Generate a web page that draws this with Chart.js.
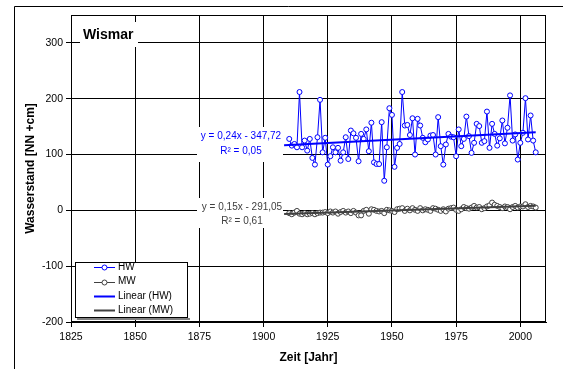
<!DOCTYPE html>
<html><head><meta charset="utf-8">
<script src="https://cdn.jsdelivr.net/npm/chart.js@4.4.1/dist/chart.umd.min.js"></script>
<style>html,body{margin:0;padding:0;background:#fff}#wrap{position:relative;width:563px;height:369px}</style>
</head><body><div id="wrap"><canvas id="c" width="563" height="369"></canvas></div>
<script>
const years = [1910,1911,1912,1913,1914,1915,1916,1917,1918,1919,1920,1921,1922,1923,1924,1925,1926,1927,1928,1929,
1930,1931,1932,1933,1934,1935,1936,1937,1938,1939,1940,1941,1942,1943,1944,1945,1946,1947,1948,1949,
1950,1951,1952,1953,1954,1955,1956,1957,1958,1959,1960,1961,1962,1963,1964,1965,1966,1967,1968,1969,
1970,1971,1972,1973,1974,1975,1976,1977,1978,1979,1980,1981,1982,1983,1984,1985,1986,1987,1988,1989,
1990,1991,1992,1993,1994,1995,1996,1997,1998,1999,2000,2001,2002,2003,2004,2005,2006];
const hwValues = [128,116,119,113,212,113,125,107,128,94,82,131,198,104,130,82,97,113,104,112,
89,104,131,92,143,138,130,88,137,128,145,106,157,86,83,83,158,53,113,183,
171,78,112,119,212,152,153,135,165,100,164,152,130,122,127,134,135,100,167,115,
82,118,137,132,131,97,145,115,128,168,133,103,121,155,151,121,124,177,112,155,
137,116,129,161,120,148,206,125,136,91,121,139,201,127,170,125,104];
const mwValues = [-5,-7,-4,-1,-6,-7,-5,-7,-6,-5,-7,-5,-4,-4,-3,-5,-2,-4,-2,-6,
-3,-1,-4,-2,-5,-1,-4,-9,-9,-1,1,-6,2,1,-1,-2,-1,-5,1,0,
-1,-3,2,3,4,-1,3,0,4,1,-1,4,0,2,1,-1,4,3,1,-1,
2,-2,3,4,5,1,-1,2,6,4,3,5,8,5,6,2,4,7,9,14,
10,8,6,4,7,6,2,6,8,5,7,7,11,6,8,7,5];
const xTickValues = [1825,1850,1875,1900,1925,1950,1975,2000];
const yTickValues = [-200,-100,0,100,200,300];
const seriesLabels = ['HW','MW','Linear (HW)','Linear (MW)'];
const chartTitle = 'Wismar';
const hwEquation = ['y = 0,24x - 347,72','R\u00B2 = 0,05'];
const mwEquation = ['y = 0,15x - 291,05','R\u00B2 = 0,61'];
const xAxisTitle = 'Zeit [Jahr]';
const yAxisTitle = 'Wasserstand [NN +cm]';
const trendRange = [1908, 2006];

const HW_COLOR = '#0000ff';
const MW_COLOR = '#404040';
const FONT = "'Liberation Sans', Arial, sans-serif";

function linFit(xs, ys) {
  const n = xs.length;
  let sx=0, sy=0, sxx=0, sxy=0;
  for (let i=0;i<n;i++){ sx+=xs[i]; sy+=ys[i]; sxx+=xs[i]*xs[i]; sxy+=xs[i]*ys[i]; }
  const m = (n*sxy - sx*sy)/(n*sxx - sx*sx);
  const b = (sy - m*sx)/n;
  return trendRange.map(x => ({x, y: m*x + b}));
}
const toPts = (ys) => years.map((x,i) => ({x, y: ys[i]}));

const decor = {
  id: 'decor',
  beforeDraw(chart) {
    const ctx = chart.ctx;
    ctx.save();
    ctx.fillStyle = '#fff';
    ctx.fillRect(0, 0, chart.width, chart.height);
    ctx.strokeStyle = '#000'; ctx.lineWidth = 1;
    ctx.beginPath();
    ctx.moveTo(14.5, chart.height); ctx.lineTo(14.5, 6.5); ctx.lineTo(chart.width, 6.5);
    ctx.stroke();
    ctx.restore();
  },
  afterDraw(chart) {
    const ctx = chart.ctx, a = chart.chartArea;
    ctx.save();
    ctx.strokeStyle = '#000'; ctx.lineWidth = 1;
    ctx.strokeRect(Math.round(a.left)+0.5, Math.round(a.top)+0.5, Math.round(a.right-a.left)-1, Math.round(a.bottom-a.top)-1);
    ctx.fillStyle = '#fff';
    ctx.fillRect(80, 22, 58, 25);
    ctx.fillStyle = '#000';
    ctx.font = 'bold 14px ' + FONT;
    ctx.textBaseline = 'alphabetic'; ctx.textAlign = 'left';
    ctx.fillText(chartTitle, 83, 39);
    ctx.font = '10px ' + FONT;
    ctx.textAlign = 'center'; ctx.textBaseline = 'middle';
    ctx.fillStyle = '#fff';
    ctx.fillRect(197, 127, 86, 35);
    ctx.fillRect(197, 198, 86, 30);
    ctx.fillStyle = HW_COLOR;
    ctx.fillText(hwEquation[0], 241, 136);
    ctx.fillText(hwEquation[1], 241, 151);
    ctx.fillStyle = MW_COLOR;
    ctx.fillText(mwEquation[0], 242, 207);
    ctx.fillText(mwEquation[1], 242, 221);
    ctx.fillStyle = '#808080';
    ctx.fillRect(77, 318, 113, 2);
    ctx.fillStyle = '#fff';
    ctx.fillRect(75, 262, 113, 56);
    ctx.strokeStyle = '#000'; ctx.lineWidth = 1;
    ctx.strokeRect(75.5, 262.5, 112, 55);
    const rows = [267, 281.5, 296, 310];
    chart.data.datasets.forEach((ds, i) => {
      const y = rows[i];
      ctx.strokeStyle = ds.borderColor; ctx.lineWidth = ds.borderWidth;
      ctx.beginPath(); ctx.moveTo(94, Math.round(y)+0.5); ctx.lineTo(115, Math.round(y)+0.5); ctx.stroke();
      if (ds.pointRadius > 0) {
        ctx.beginPath(); ctx.arc(104.5, Math.round(y)+0.5, ds.pointRadius, 0, Math.PI*2);
        ctx.fillStyle = '#fff'; ctx.fill(); ctx.lineWidth = 1; ctx.stroke();
      }
      ctx.fillStyle = '#000'; ctx.font = '10px ' + FONT;
      ctx.textAlign = 'left'; ctx.textBaseline = 'middle';
      ctx.fillText(ds.label, 118, y);
    });
    ctx.restore();
  }
};

const tickFont = {family: FONT, size: 10.5};
new Chart(document.getElementById('c'), {
  type: 'line',
  data: {
    datasets: [
      {label: seriesLabels[0], data: toPts(hwValues), borderColor: HW_COLOR, borderWidth: 1,
       pointRadius: 2.5, pointBackgroundColor: '#fff', pointBorderColor: HW_COLOR, pointBorderWidth: 1, order: 3},
      {label: seriesLabels[1], data: toPts(mwValues), borderColor: MW_COLOR, borderWidth: 1,
       pointRadius: 2.5, pointBackgroundColor: '#fff', pointBorderColor: MW_COLOR, pointBorderWidth: 1, order: 4},
      {label: seriesLabels[2], data: linFit(years, hwValues), borderColor: HW_COLOR, borderWidth: 2, pointRadius: 0, order: 1},
      {label: seriesLabels[3], data: linFit(years, mwValues), borderColor: MW_COLOR, borderWidth: 2, pointRadius: 0, order: 2}
    ]
  },
  options: {
    responsive: false, animation: false, devicePixelRatio: 1,
    layout: {padding: {top: 15, right: 17, bottom: 0, left: 0}},
    plugins: {legend: {display: false}, tooltip: {enabled: false}},
    scales: {
      x: {
        type: 'linear', position: 'bottom', min: 1825, max: 2010,
        afterFit: s => { s.height = 47; },
        afterBuildTicks: s => { s.ticks = xTickValues.map(v => ({value: v})); },
        ticks: {callback: v => String(v), font: tickFont, color: '#000', padding: 4, maxRotation: 0, autoSkip: false},
        grid: {color: '#000', lineWidth: 1, tickLength: 5},
        border: {color: '#000'},
        title: {display: true, text: xAxisTitle, color: '#000', font: {family: FONT, size: 12, weight: 'bold'}, padding: {top: 0, bottom: 4}}
      },
      y: {
        type: 'linear', position: 'left', min: -200, max: 350,
        afterFit: s => { s.width = 71; },
        afterBuildTicks: s => { s.ticks = yTickValues.map(v => ({value: v})); },
        ticks: {callback: v => String(v), font: tickFont, color: '#000', padding: 3},
        grid: {color: '#000', lineWidth: 1, tickLength: 5},
        border: {color: '#000'},
        title: {display: true, text: yAxisTitle, color: '#000', font: {family: FONT, size: 12, weight: 'bold'}, padding: {top: 23, bottom: 0}}
      }
    }
  },
  plugins: [decor]
});
</script></body></html>
